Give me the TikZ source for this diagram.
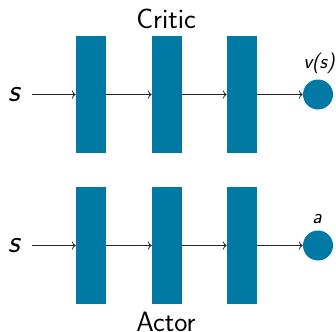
\documentclass[tikz,border=0pt]{standalone}
\usetikzlibrary{arrows.meta}
\definecolor{layerblue}{HTML}{0079A5}
\begin{document}
\begin{tikzpicture}[x=0.75pt,y=-0.75pt,
  layer/.style={fill=layerblue,draw=none,minimum width=22.5pt,minimum height=87.75pt,inner sep=0pt},
  outnode/.style={circle,fill=layerblue,draw=none,minimum size=22.5pt,inner sep=0pt},
  conn/.style={->,line width=0.6pt,draw=black!85},
  bigtxt/.style={font=\sffamily\fontsize{21}{25}\selectfont,inner sep=0pt},
  intxt/.style={font=\sffamily\itshape\fontsize{24}{28}\selectfont,inner sep=0pt},
  lbl/.style={font=\sffamily\itshape\fontsize{15.5}{18}\selectfont,inner sep=0pt}]
\useasboundingbox (0,0) rectangle (336,332);
% Critic
\node[bigtxt] (ct) at (166,19) {Critic};
\node[intxt,anchor=base] (cs) at (14,101) {s};
\node[layer] (c1) at (91,94.5) {};
\node[layer] (c2) at (167,94.5) {};
\node[layer] (c3) at (242,94.5) {};
\node[outnode] (co) at (318,94.5) {};
\node[lbl,anchor=base] (cv) at (319,68) {v(s)};
\draw[conn] (32,94.5) coordinate (cstart) -- (c1.west);
\draw[conn] (c1.east) -- (c2.west);
\draw[conn] (c2.east) -- (c3.west);
\draw[conn] (c3.east) -- (co.west);
% Actor
\node[intxt,anchor=base] (as) at (14,252) {s};
\node[layer] (a1) at (91,245.5) {};
\node[layer] (a2) at (167,245.5) {};
\node[layer] (a3) at (242,245.5) {};
\node[outnode] (ao) at (318,245.5) {};
\node[lbl,anchor=base] (aa) at (317,223.5) {a};
\draw[conn] (32,245.5) coordinate (astart) -- (a1.west);
\draw[conn] (a1.east) -- (a2.west);
\draw[conn] (a2.east) -- (a3.west);
\draw[conn] (a3.east) -- (ao.west);
\node[bigtxt,anchor=base] (at) at (166,331) {Actor};
\end{tikzpicture}
\end{document}
